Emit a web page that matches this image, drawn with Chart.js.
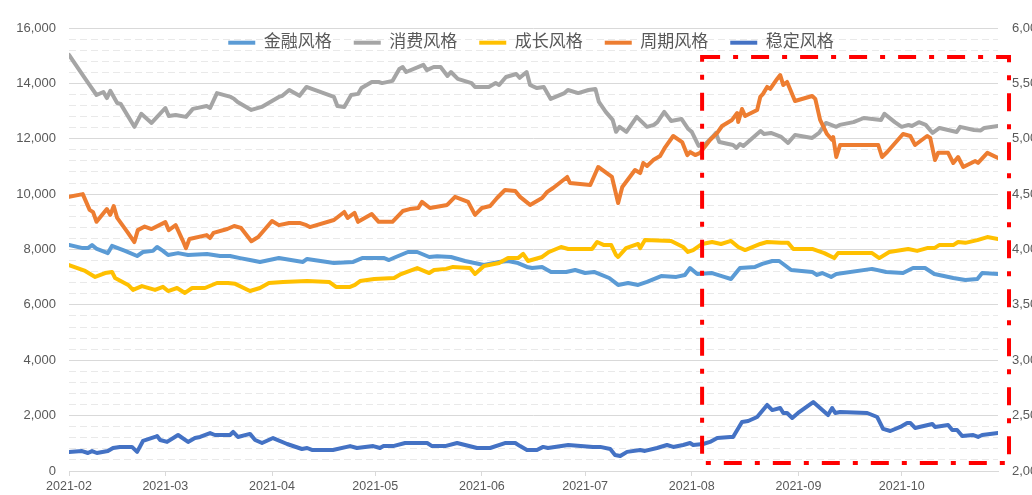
<!DOCTYPE html>
<html>
<head>
<meta charset="utf-8">
<script src="https://cdn.jsdelivr.net/npm/chart.js@4.4.1/dist/chart.umd.min.js"></script>
<style>
html,body{margin:0;padding:0;overflow:hidden;background:#fff;width:1032px;height:495px}
canvas{display:block}
</style>
</head>
<body>
<canvas id="c" width="1050" height="495"></canvas>
<script>
// ---- axis labels ----
const monthLabels = ['2021-02','2021-03','2021-04','2021-05','2021-06','2021-07','2021-08','2021-09','2021-10'];
const monthStartDays = [0,28,59,89,120,150,181,212,242]; // days since 2021-02-01
const seriesNames = ['金融风格','消费风格','成长风格','周期风格','稳定风格'];

// ---- 金融风格 ----
const finDays = [0,4,5.5,6.7,8.1,11.3,12.5,16.3,19.8,21.5,
  24.4,25.6,27.3,28.8,31.7,34.6,40.1,43.9,46.8,49.7,
  52.6,55.5,61,68,69.2,77,82.6,85.2,91.6,93,
  95,98.5,101.2,104.7,107,111,115.1,120.6,125,127.6,
  130.5,133.1,134.6,137.5,140.1,144.5,147.1,150,152.6,157,
  159.6,162.5,165.4,168,172.1,176.5,179,180.5,182.6,186.9,
  190.4,192.4,195,199.4,201.5,204.4,206.4,209.9,216,217.4,
  218.9,221.5,223,233.4,237.5,242.4,245.3,248.8,251.5,257,
  260.5,264,265.4,270];
const finVals = [8160,8050,8050,8160,8020,7870,8130,7950,7765,7910,
  7950,8090,7950,7800,7870,7800,7840,7765,7765,7690,
  7620,7550,7690,7550,7660,7510,7550,7690,7690,7620,
  7730,7910,7910,7730,7760,7730,7585,7440,7550,7585,
  7510,7370,7330,7370,7190,7190,7260,7150,7190,6970,
  6720,6790,6720,6830,7040,7010,7080,7330,7115,7150,
  7010,6935,7330,7370,7480,7585,7585,7260,7190,7080,
  7150,7010,7115,7300,7190,7150,7330,7330,7115,6970,
  6900,6935,7150,7115];

// ---- 消费风格 ----
const conDays = [0,4,6,8,10,11,12,14,15,19,
  21,24,28,29,31,34,36,40,41,43,
  47,48,49,53,56,61,62,64,67,69,
  77,78,80,82,84,85,88,90,91,94,
  96,97,98,103,104,106,108,110,111,113,
  117,118,122,124,125,127,130,131,133,134,
  136,138,140,144,145,148,151,153,154,156,
  158,159,160,162,165,168,170,171,173,175,
  178,180,181,183,185,187,188,189,193,194,
  195,196,201,202,204,207,209,211,216,218,
  220,223,224,228,231,236,237,240,242,244,
  245,247,249,251,253,258,259,263,265,266,
  270];
const conVals = [15030,14300,13940,13580,13690,13470,13730,13290,13260,12430,
  12900,12570,13110,12820,12860,12790,13080,13180,13110,13650,
  13510,13440,13330,13040,13150,13510,13550,13760,13550,13870,
  13510,13180,13150,13580,13620,13830,14050,14050,14010,14090,
  14520,14590,14410,14670,14480,14590,14590,14270,14410,14160,
  14010,13870,13870,14010,13940,14230,14340,14200,14410,13940,
  13830,13870,13440,13650,13760,13650,13760,13800,13330,12970,
  12680,12250,12430,12250,12790,12430,12500,12600,12970,12640,
  12715,12350,12250,11740,11810,12065,12210,11880,11775,11670,
  11810,11740,12280,12170,12210,12065,11850,12135,12030,12210,
  12570,12430,12500,12600,12750,12680,12900,12600,12430,12500,
  12460,12600,12500,12210,12390,12245,12430,12315,12300,12390,
  12460];

// ---- 成长风格 ----
const groDays = [0,4.7,7.6,10.5,12.5,13.4,17.2,18.6,21.2,25,
  27.3,28.8,31.4,33.7,35.8,39.5,43,46.2,48.3,52.6,
  55.5,58.1,62.2,69.2,75.6,77.6,81.7,83.1,84.6,88.7,
  94.5,96.5,101.2,104.7,106.1,109.6,111.6,116.6,118,120.6,
  125,127.6,130.5,132,133.4,137.5,139.5,143,145.1,152,
  153.5,155.5,157.6,159,159.6,161.9,165.4,166,167.4,175,
  178.5,179.9,181.4,184,186.9,189.5,192.4,194.5,196.5,200.9,
  202.9,207,209,210.5,216,219.5,222.4,223.5,233.4,235.5,
  238.4,243.9,246.5,249.4,251.5,252.9,257,258.4,260.5,264,
  266.9,270];
const groVals = [7440,7225,7010,7150,7190,6970,6720,6540,6680,6540,
  6650,6500,6610,6430,6610,6610,6790,6790,6760,6500,
  6610,6790,6830,6860,6830,6650,6650,6720,6860,6935,
  6970,7115,7330,7150,7260,7300,7370,7330,7115,7405,
  7510,7690,7690,7840,7585,7730,7910,8090,8020,8020,
  8270,8160,8160,7800,7730,8050,8200,8050,8340,8310,
  8090,7910,7980,8200,8270,8200,8310,8090,7980,8200,
  8270,8240,8240,8020,8020,7870,7690,7870,7870,7690,
  7910,8020,7950,8050,8050,8160,8160,8270,8240,8340,
  8450,8380];

// ---- 周期风格 ----
const cycDays = [0,4,6,7,8,11,12,13,14,17,
  19,20,22,24,28,29,31,33,34,35,
  40,41,42,46,48,50,53,55,59,61,
  64,67,69,70,77,80,81,83,84,88,
  90,94,97,99,101.5,102.6,104.9,109.9,112.2,116,
  118,120,122.4,124.4,126.7,129.7,131.1,134,137.5,139,
  140.7,144.8,145.6,151.5,153.8,157.8,159.6,160.8,164.5,166,
  166.9,168,169.8,171.8,173.3,175.6,178.2,179.7,180.5,182,
  183.4,186.3,188.4,189.8,192.7,194.2,194.5,195.6,196.5,200,
  200.9,201.7,202.9,203.8,205.8,206.7,207.6,208.7,211,216,
  216.9,218.3,220.3,221.8,222.1,223,224.1,235.2,236.3,237.8,
  242.4,244.5,245.9,249.4,250.3,251.7,252.6,255.5,257,258.4,
  259.9,263.4,264.2,266.9,270];
const cycVals = [9900,10000,9430,9350,9000,9460,9250,9570,9140,8630,
  8270,8700,8830,8740,8990,8700,8880,8340,8050,8380,
  8520,8415,8600,8740,8850,8780,8300,8450,9030,8880,
  8960,8960,8880,8810,9065,9355,9140,9320,9000,9280,
  9000,9000,9390,9460,9500,9720,9500,9610,9900,9720,
  9250,9500,9570,9860,10150,10110,9900,9610,9860,10080,
  10220,10620,10400,10330,10980,10620,9680,10260,10870,10760,
  11125,11015,11230,11380,11700,12100,11880,11410,11520,11410,
  11490,11955,12210,12460,12680,12930,12605,13075,12820,13040,
  13510,13620,13870,13800,14160,14300,13940,14050,13365,13545,
  13440,12680,12170,11955,12060,11340,11775,11775,11340,11520,
  12170,12100,11775,12100,12030,11230,11490,11490,11125,11340,
  10980,11195,11125,11490,11305];

// ---- 稳定风格 ----
const staDays = [0,3.8,5.5,6.7,8.1,11.3,12.8,14.8,18.3,19.8,
  21.5,25,25.6,26.5,28.5,31.7,34.6,36.6,38.1,41,
  42.4,46.8,47.7,49.1,52.6,54.1,56.1,59.3,63.4,67.7,
  69.2,70.6,76.7,81.7,83.7,88.4,90.4,91.3,94.2,97.7,
  104.1,105.5,109.3,112.8,118.6,122.4,126.7,129.7,131.1,133.1,
  136,137.8,139.2,145.1,152.3,154.4,157.3,158.7,160.2,162.2,
  166,167.4,170.9,173.8,175.6,178.5,180.5,181.4,184.3,186.3,
  188.4,192.2,193,195.6,197.4,200,202.9,204.4,206.7,207.6,
  208.7,210.2,211.9,216.3,220.6,221.8,222.7,224.1,232,234.9,
  236.6,238.7,241.6,243.6,244.5,245.9,250.9,251.7,255.5,256.7,
  258.1,259.6,262.8,264.2,265.4,270];
const staVals = [690,720,650,720,650,720,830,870,870,690,
  1085,1230,1265,1120,1050,1300,1050,1190,1230,1370,
  1300,1300,1410,1230,1340,1120,1010,1190,975,795,
  830,760,760,900,830,900,830,900,900,1010,
  1010,900,900,1010,830,830,1010,1010,900,760,
  760,870,830,940,870,870,795,580,540,690,
  760,725,830,940,870,940,1010,940,975,1050,
  1190,1230,1230,1770,1805,1950,2385,2200,2275,2095,
  2095,1915,2095,2490,2020,2275,2095,2130,2095,1950,
  1520,1445,1590,1735,1735,1555,1700,1590,1660,1480,
  1480,1265,1300,1230,1300,1370];

// highlighted window (dash-dot box), in data units
const highlightBox = { fromDay: 184, toDay: 273.2, low: 290, high: 14950 };

const FONT = "'Liberation Sans', 'Noto Sans CJK SC', sans-serif";
const TEXT = '#595959';

const seriesDefs = [
  { days: finDays, vals: finVals, color: '#5B9BD5' },
  { days: conDays, vals: conVals, color: '#A5A5A5' },
  { days: groDays, vals: groVals, color: '#FFC000' },
  { days: cycDays, vals: cycVals, color: '#ED7D31' },
  { days: staDays, vals: staVals, color: '#4472C4' }
];

const datasets = seriesDefs.map((s, i) => ({
  label: seriesNames[i],
  data: s.days.map((d, j) => ({ x: d, y: s.vals[j] })),
  borderColor: s.color,
  backgroundColor: s.color,
  borderWidth: 4,
  pointRadius: 0,
  pointHoverRadius: 0,
  tension: 0,
  fill: false,
  borderJoinStyle: 'round',
  borderCapStyle: 'round',
  order: -i,
  yAxisID: 'y'
}));

// legend floats over the top of the plot area: reserve only a 28px band in the layout
const legendBand = {
  id: 'legendBand',
  beforeLayout(chart) {
    const lg = chart.legend;
    if (lg && !lg._bandPatched) {
      const f = lg.fit;
      lg.fit = function () { f.call(this); this.height = 28; };
      lg._bandPatched = true;
    }
  },
  afterLayout(chart) {
    const lg = chart.legend;
    if (lg) {
      lg.height = 70; lg.bottom = lg.top + 70;
      lg.left += 6; lg.right += 6;
    }
  }
};

const boxPlugin = {
  id: 'boxPlugin',
  afterDatasetsDraw(chart) {
    const { ctx, scales } = chart;
    const l = scales.x.getPixelForValue(highlightBox.fromDay);
    const r = scales.x.getPixelForValue(highlightBox.toDay);
    const t = scales.y.getPixelForValue(highlightBox.high);
    const b = scales.y.getPixelForValue(highlightBox.low);
    ctx.save();
    ctx.strokeStyle = '#FF0000';
    ctx.lineWidth = 4;
    ctx.setLineDash([18, 13, 5, 13]);
    ctx.strokeRect(l, t, r - l, b - t);
    ctx.restore();
  }
};

new Chart(document.getElementById('c'), {
  type: 'line',
  data: { datasets },
  plugins: [legendBand, boxPlugin],
  options: {
    responsive: false,
    animation: false,
    devicePixelRatio: 1,
    layout: { padding: 0 },
    plugins: {
      tooltip: { enabled: false },
      legend: {
        position: 'top',
        align: 'center',
        title: { display: true, text: '', font: { size: 1 }, padding: { top: 11, bottom: 0 } },
        labels: {
          boxWidth: 27,
          boxHeight: 4,
          padding: 22,
          color: TEXT,
          font: { family: FONT, size: 17 },
          sort: (a, b) => a.datasetIndex - b.datasetIndex,
          generateLabels: (chart) => Chart.defaults.plugins.legend.labels.generateLabels(chart)
            .map(l => Object.assign({}, l, { fillStyle: l.strokeStyle, lineWidth: 0 }))
        }
      }
    },
    scales: {
      x: {
        type: 'linear',
        min: 0,
        max: 270,
        afterBuildTicks: (s) => { s.ticks = monthStartDays.map(v => ({ value: v })); },
        afterFit: (s) => { s.height = 24; },
        ticks: {
          autoSkip: false,
          maxRotation: 0,
          padding: 3,
          color: TEXT,
          font: { family: FONT, size: 12.5 },
          callback: (v, i) => monthLabels[i]
        },
        grid: { drawOnChartArea: false, drawTicks: true, tickLength: 5, color: '#D9D9D9' },
        border: { display: true, color: '#D9D9D9', width: 1 }
      },
      y: {
        position: 'left',
        min: 0,
        max: 16000,
        afterFit: (s) => { s.width = 69; },
        ticks: {
          stepSize: 2000,
          padding: 13,
          color: TEXT,
          font: { family: FONT, size: 13 },
          callback: (v) => v.toLocaleString('en-US')
        },
        grid: { color: '#D9D9D9', lineWidth: 1, drawTicks: false },
        border: { display: false }
      },
      yMinor: {
        position: 'left',
        min: 0,
        max: 16000,
        afterFit: (s) => { s.width = 0; },
        ticks: { display: false, stepSize: 400 },
        grid: {
          drawTicks: false,
          lineWidth: 1,
          color: (c) => (c.tick && c.tick.value % 2000 === 0) ? 'rgba(0,0,0,0)' : '#E9E9E9'
        },
        border: { display: false, dash: [7, 4] }
      },
      y1: {
        position: 'right',
        min: 2000,
        max: 6000,
        afterFit: (s) => { s.width = 52; },
        ticks: {
          stepSize: 500,
          padding: 14,
          color: TEXT,
          font: { family: FONT, size: 13 },
          callback: (v) => v.toLocaleString('en-US')
        },
        grid: { drawOnChartArea: false, drawTicks: false },
        border: { display: false }
      }
    }
  }
});
</script>
</body>
</html>
